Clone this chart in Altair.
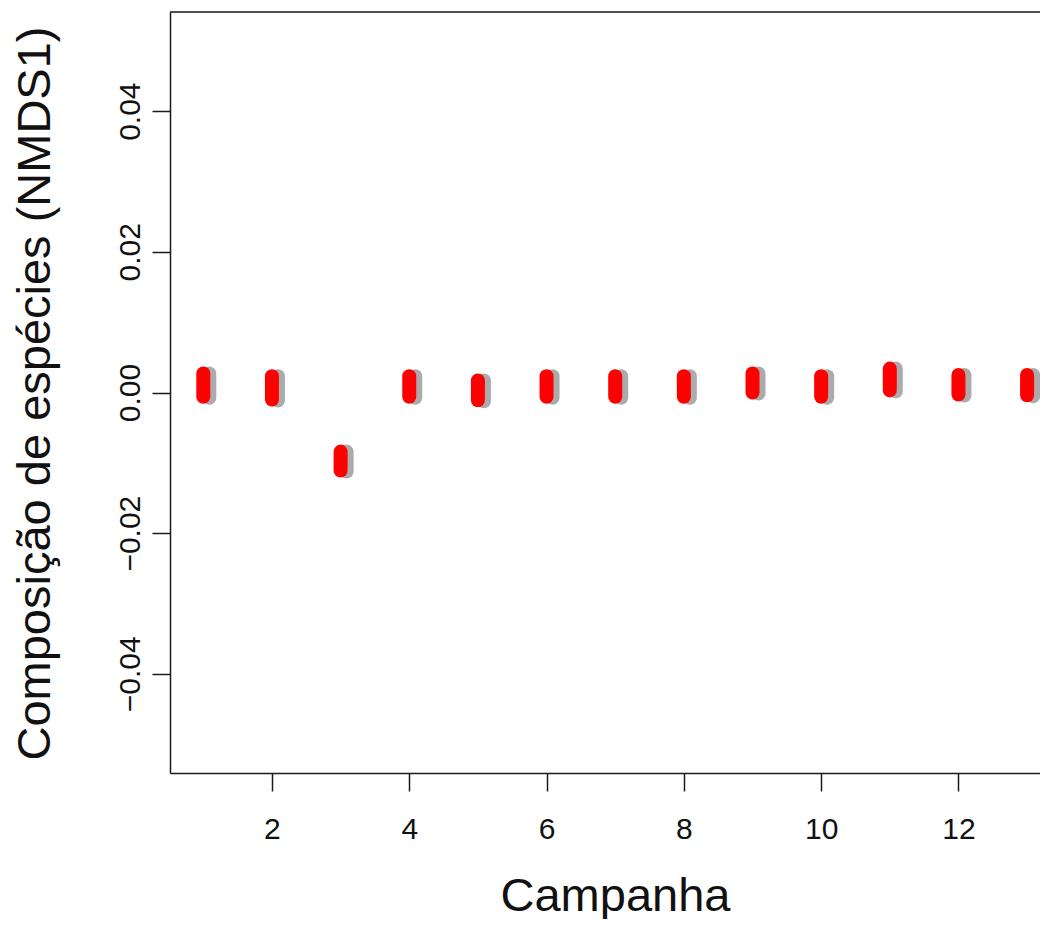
import altair as alt
import pandas as pd

# Data
campanha = [1, 2, 3, 4, 5, 6, 7, 8, 9, 10, 11, 12, 13]
nmds_hi = [0.0027, 0.0023, -0.0084, 0.0023, 0.0017, 0.0023, 0.0023, 0.0023, 0.0027, 0.0023, 0.0034, 0.0025, 0.0025]
nmds_lo = [-0.0006, -0.0010, -0.0111, -0.0006, -0.0011, -0.0006, -0.0006, -0.0006, 0.0000, -0.0006, 0.0003, -0.0003, -0.0004]
x_ticks = [2, 4, 6, 8, 10, 12]
y_ticks = [-0.04, -0.02, 0.0, 0.02, 0.04]

df = pd.DataFrame({"campanha": campanha, "hi": nmds_hi, "lo": nmds_lo})

W, H = 870, 761
FONT = "Liberation Sans"
LINE = "#1a1a1a"

xscale = alt.Scale(domain=[0.515, 0.515 + W / 68.65], nice=False, zero=False)
yscale = alt.Scale(domain=[-0.0541, 0.0541], nice=False, zero=False)

xaxis = alt.Axis(
    values=x_ticks, format="d", title="Campanha", grid=False,
    labelFont=FONT, labelFontSize=30, labelColor="#111", labelPadding=23,
    labelFlush=False, labelOverlap=False,
    tickSize=18, tickWidth=1.5, tickColor=LINE,
    domainColor=LINE, domainWidth=1.5,
    titleFont=FONT, titleFontSize=47, titleFontWeight="normal", titleColor="#111",
    titleX=445, titleY=137, titleAlign="center", titleBaseline="alphabetic",
)
yaxis = alt.Axis(
    values=y_ticks, format=".2f", title="Composição de espécies (NMDS1)", grid=False,
    labelFont=FONT, labelFontSize=30, labelColor="#111", labelAngle=270,
    labelAlign="center", labelBaseline="middle", labelPadding=22,
    labelFlush=False, labelOverlap=False,
    tickSize=18, tickWidth=1.5, tickColor=LINE,
    domainColor=LINE, domainWidth=1.5,
    titleFont=FONT, titleFontSize=47, titleFontWeight="normal", titleColor="#111",
    titleAngle=270, titleX=-135, titleY=381, titleAlign="center", titleBaseline="middle",
)

base = alt.Chart(df)
shadow = base.mark_rule(color="#ababab", strokeWidth=14, strokeCap="round", xOffset=6, yOffset=1).encode(
    x=alt.X("campanha:Q", scale=xscale, axis=xaxis),
    y=alt.Y("lo:Q", scale=yscale, axis=yaxis),
    y2="hi:Q",
)
red = base.mark_rule(color="#ff0000", strokeWidth=14, strokeCap="round").encode(
    x=alt.X("campanha:Q", scale=xscale),
    y=alt.Y("lo:Q", scale=yscale),
    y2="hi:Q",
)
top = alt.Chart(pd.DataFrame({"k": [0]})).mark_rule(color=LINE, strokeWidth=1.5).encode(
    x=alt.value(0), x2=alt.value(W + 5), y=alt.value(0)
)

chart = alt.layer(shadow, red, top).properties(
    width=W, height=H,
    autosize=alt.AutoSizeParams(type="none"),
    padding={"left": 162, "top": 4, "right": 0, "bottom": 146},
).configure_view(stroke=None).configure(background="white")

chart.save("out.html", embed_options={"renderer": "svg", "actions": False})
